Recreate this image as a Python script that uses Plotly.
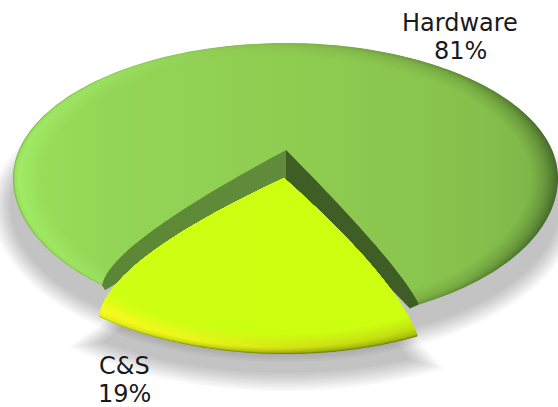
import math
import plotly.graph_objects as go

# Chart data
categories = ["Hardware", "C&S"]
shares = [81, 19]

# Pie geometry on a canvas-sized axis (tilted disc, back half flatter than the front)
W, H = 558, 407
DISC = dict(cx=285.5, cy=178, rx=272.5, ry_top=135, ry_bot=145)
SLICE = dict(cx=285, cy=200, rx=285, ry_top=154, ry_bot=154)
SLICE_SHADOW = dict(cx=285, cy=228, rx=305, ry_top=154, ry_bot=154)
DISC_SHADOW = dict(cx=285, cy=205, rx=284, ry_top=130, ry_bot=148)
MID_ANGLE = -6.5      # direction of the pulled-out slice, degrees from straight down
GAP_PAD = 1.6         # extra opening of the gap in the disc, degrees per side

DISC_APEX = (286, 150)
SLICE_APEX = (284, 178)
WALL_BOTTOM = (286, 180)
# Control points that bow the cut edges
DISC_CTRL_R, DISC_CTRL_L = (400, 265), (109, 245)
SLICE_CTRL_R, SLICE_CTRL_L = (398, 280), (108, 260)
FONT = "DejaVu Sans"


def rim(e, theta, s=1.0):
    t = math.radians(theta)
    c = math.cos(t)
    ry = e["ry_bot"] if c > 0 else e["ry_top"]
    return e["cx"] + e["rx"] * s * math.sin(t), e["cy"] + ry * s * c


def norm(e, p):
    dx = (p[0] - e["cx"]) / e["rx"]
    dy = p[1] - e["cy"]
    dy /= e["ry_bot"] if dy > 0 else e["ry_top"]
    return math.hypot(dx, dy)


def angle_of(e, p):
    dx = (p[0] - e["cx"]) / e["rx"]
    dy = p[1] - e["cy"]
    dy /= e["ry_bot"] if dy > 0 else e["ry_top"]
    return math.degrees(math.atan2(dx, dy))


def bulged_edge(apex, end, ctrl, n=60):
    pts = []
    for i in range(n + 1):
        t = i / n
        pts.append(((1 - t) ** 2 * apex[0] + 2 * t * (1 - t) * ctrl[0] + t * t * end[0],
                    (1 - t) ** 2 * apex[1] + 2 * t * (1 - t) * ctrl[1] + t * t * end[1]))
    return pts


def wedge(e, apex, a0, a1, ctrl0, ctrl1, s=1.0):
    # Outline from the apex along edge a0, round the rim to a1, and back along that edge
    e0 = [p for p in bulged_edge(apex, rim(e, a0), ctrl0) if norm(e, p) <= s + 1e-6]
    e1 = [p for p in bulged_edge(apex, rim(e, a1), ctrl1) if norm(e, p) <= s + 1e-6]
    t0 = angle_of(e, e0[-1])
    t1 = angle_of(e, e1[-1])
    if t0 > a0 + 180:
        t0 -= 360
    if t1 < a1 - 180:
        t1 += 360
    if t1 > a1 + 180:
        t1 -= 360
    n = 240
    arc = [rim(e, t0 + (t1 - t0) * i / n, s) for i in range(n + 1)]
    return e0 + arc + e1[::-1]


def lerp_hex(stops, t):
    for (t0, c0), (t1, c1) in zip(stops, stops[1:]):
        if t <= t1:
            f = (t - t0) / (t1 - t0)
            rgb = [round(int(c0[i:i + 2], 16) * (1 - f) + int(c1[i:i + 2], 16) * f) for i in (1, 3, 5)]
            return "rgb({},{},{})".format(*rgb)
    return stops[-1][1]


fig = go.Figure()


def add_poly(points, **kw):
    fig.add_trace(go.Scatter(x=[p[0] for p in points], y=[p[1] for p in points], mode="none",
                             fill="toself", hoverinfo="skip", **kw))


def add_banded(e, apex, a0, a1, ctrl0, ctrl1, depth, layers, span, x_pos, ramps):
    # Bevel: nested outlines, each with its own left-to-right colour ramp
    for k in range(layers):
        t = k / (layers - 1)
        s = 1 - depth * t ** 1.3
        scale = [[p, lerp_hex(r, t)] for p, r in zip(x_pos, ramps)]
        add_poly(wedge(e, apex, a0, a1, ctrl0, ctrl1, s),
                 fillgradient=dict(type="horizontal", colorscale=scale, start=span[0], stop=span[1]))


slice_share = shares[1]
half_span = 360 * slice_share / sum(shares) / 2
slice_a0, slice_a1 = MID_ANGLE + half_span, MID_ANGLE - half_span
disc_a0, disc_a1 = MID_ANGLE + half_span + GAP_PAD, 360 + MID_ANGLE - half_span - GAP_PAD

# Soft drop shadows: stacked translucent outlines that widen past the edge
BLUR = 9
STEPS = 9
for k in range(STEPS):
    d = BLUR * (1 - 2 * k / (STEPS - 1))
    e = dict(DISC_SHADOW, rx=DISC_SHADOW["rx"] + d, ry_top=DISC_SHADOW["ry_top"] + d, ry_bot=DISC_SHADOW["ry_bot"] + d)
    pts = [rim(e, i * 2) for i in range(181)]
    add_poly(pts, fillcolor="rgba(0,0,0,0.026)")
for k in range(STEPS):
    d = BLUR * (1 - 2 * k / (STEPS - 1))
    e = dict(SLICE_SHADOW, rx=SLICE_SHADOW["rx"] + d, ry_top=SLICE_SHADOW["ry_top"] + d, ry_bot=SLICE_SHADOW["ry_bot"] + d)
    pts = [(e["cx"], e["cy"] - 30)] + [rim(e, slice_a1 - 0.3 * d + (slice_a0 - slice_a1 + 0.6 * d) * i / 80) for i in range(81)]
    add_poly(pts, fillcolor="rgba(0,0,0,0.026)")

# Hardware disc
add_banded(
    DISC, DISC_APEX, disc_a0, disc_a1, DISC_CTRL_R, DISC_CTRL_L, 0.10, 16, (13, 558),
    [0, 0.18, 0.5, 0.82, 1.0],
    [
        [(0, "#7db04a"), (0.08, "#98e05c"), (0.3, "#a2ec66"), (1, "#9ae05c")],
        [(0, "#8cc552"), (0.15, "#9ae060"), (1, "#93d556")],
        [(0, "#86b64c"), (0.4, "#8cc450"), (1, "#8fcd51")],
        [(0, "#5f8a35"), (0.35, "#76aa42"), (1, "#88c24d")],
        [(0, "#44662a"), (0.25, "#517a30"), (0.6, "#68983d"), (1, "#7cb348")],
    ],
)

# Inner walls exposed by the pulled-out slice
left_end, right_end = rim(DISC, disc_a1), rim(DISC, disc_a0)
left_wall = bulged_edge(DISC_APEX, left_end, DISC_CTRL_L) + [(left_end[0] + 3, left_end[1] + 5), WALL_BOTTOM]
right_wall = bulged_edge(DISC_APEX, right_end, DISC_CTRL_R) + [(right_end[0] - 9, right_end[1] + 4), WALL_BOTTOM]
add_poly(left_wall, fillgradient=dict(type="horizontal", start=100, stop=290,
                                      colorscale=[[0, "#5b8734"], [1, "#628c3d"]]))
add_poly(right_wall, fillcolor="#3f5e25")

# C&S slice
add_banded(
    SLICE, SLICE_APEX, slice_a0, slice_a1, SLICE_CTRL_R, SLICE_CTRL_L, 0.13, 18, (95, 420),
    [0, 0.3, 0.65, 1.0],
    [
        [(0, "#b8d010"), (0.1, "#eef41a"), (0.45, "#f8fb1e"), (1, "#d0ff12")],
        [(0, "#7d930a"), (0.12, "#c2d610"), (0.35, "#eef41a"), (1, "#ccff12")],
        [(0, "#68780a"), (0.12, "#9cb00c"), (0.4, "#d0e014"), (1, "#ccff10")],
        [(0, "#6c7e0a"), (0.15, "#a4bc0e"), (0.5, "#c0e010"), (1, "#ccff10")],
    ],
)

# Category labels with their percentages, one annotation per line
label_pos = {"Hardware": (460, 23, 51), "C&S": (124, 366, 394)}
for name, value in zip(categories, shares):
    x, y_name, y_value = label_pos[name]
    for text, y in ((name, y_name), (f"{value}%", y_value)):
        fig.add_annotation(x=x, y=y, xref="x", yref="y", showarrow=False,
                           text=text, font=dict(family=FONT, size=24, color="#1a1a1a"))

fig.update_layout(
    width=W, height=H, margin=dict(l=0, r=0, t=0, b=0), showlegend=False,
    paper_bgcolor="white", plot_bgcolor="white",
    xaxis=dict(range=[0, W], visible=False, fixedrange=True),
    yaxis=dict(range=[H, 0], visible=False, fixedrange=True),
)
fig.write_html("out.html", config=dict(displayModeBar=False))
